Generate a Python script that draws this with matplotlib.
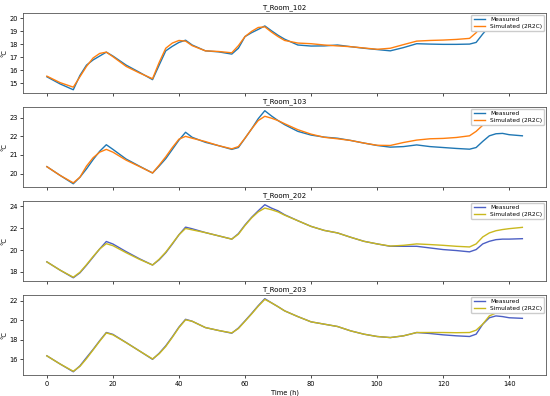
import numpy as np
import matplotlib.pyplot as plt

hours = [0, 4, 8, 10, 12, 14, 16, 18, 20, 24, 28, 32, 34, 36, 38, 40, 42, 44, 48, 52,
         56, 58, 60, 62, 64, 66, 68, 70, 72, 76, 80, 84, 88, 92, 96, 100, 104, 108, 112,
         116, 120, 124, 128, 130, 132, 134, 136, 138, 140, 144]

rooms = ["T_Room_102", "T_Room_103", "T_Room_202", "T_Room_203"]
yticks = [[15, 16, 17, 18, 19, 20], [20, 21, 22, 23], [18, 20, 22, 24], [16, 18, 20, 22]]

meas_102 = [15.5, 14.95, 14.5, 15.6, 16.4, 16.8, 17.1, 17.4, 17.1, 16.4, 15.85, 15.28, 16.4,
            17.5, 17.85, 18.15, 18.32, 17.95, 17.5, 17.42, 17.25, 17.7, 18.6, 18.9, 19.15,
            19.42, 19.05, 18.7, 18.4, 17.95, 17.87, 17.88, 17.95, 17.82, 17.7, 17.6, 17.5,
            17.75, 18.05, 18.02, 18.0, 18.0, 18.02, 18.15, 18.8, 19.4, 19.6, 19.65, 19.6, 19.5]
sim_102 = [15.55, 15.05, 14.7, 15.5, 16.3, 16.95, 17.3, 17.4, 17.05, 16.3, 15.8, 15.35, 16.6,
           17.7, 18.1, 18.3, 18.25, 17.9, 17.5, 17.45, 17.35, 17.9, 18.6, 19.0, 19.3, 19.35,
           18.95, 18.6, 18.3, 18.1, 18.05, 17.95, 17.88, 17.82, 17.72, 17.62, 17.7, 17.98,
           18.25, 18.3, 18.33, 18.38, 18.46, 18.9, 19.5, 19.8, 19.95, 20.05, 20.1, 20.13]

meas_103 = [20.37, 19.9, 19.45, 19.8, 20.25, 20.75, 21.2, 21.55, 21.3, 20.78, 20.4, 20.03,
            20.4, 20.8, 21.3, 21.8, 22.22, 21.95, 21.68, 21.5, 21.3, 21.4, 21.9, 22.4, 22.95,
            23.38, 23.1, 22.85, 22.63, 22.27, 22.07, 21.96, 21.9, 21.78, 21.64, 21.51, 21.42,
            21.45, 21.54, 21.45, 21.4, 21.35, 21.31, 21.4, 21.73, 22.03, 22.14, 22.16, 22.09, 22.03]
sim_103 = [20.37, 19.9, 19.5, 19.8, 20.4, 20.85, 21.15, 21.3, 21.15, 20.72, 20.38, 20.03,
           20.45, 20.9, 21.4, 21.85, 22.0, 21.9, 21.72, 21.5, 21.33, 21.45, 21.9, 22.4, 22.85,
           23.08, 22.98, 22.85, 22.68, 22.36, 22.12, 21.95, 21.87, 21.78, 21.64, 21.52, 21.51,
           21.67, 21.8, 21.87, 21.89, 21.94, 22.03, 22.27, 22.6, 22.8, 22.9, 22.95, 22.95, 22.95]

meas_202 = [18.91, 18.15, 17.45, 17.9, 18.6, 19.35, 20.1, 20.78, 20.55, 19.85, 19.2, 18.62,
            19.1, 19.75, 20.55, 21.4, 22.1, 21.95, 21.6, 21.3, 21.0, 21.5, 22.3, 23.0, 23.6,
            24.16, 23.85, 23.6, 23.24, 22.69, 22.17, 21.8, 21.57, 21.17, 20.8, 20.56, 20.34,
            20.34, 20.34, 20.19, 20.04, 19.95, 19.83, 20.04, 20.56, 20.8, 20.95, 21.0, 21.0, 21.04]
sim_202 = [18.91, 18.15, 17.5, 17.95, 18.65, 19.4, 20.1, 20.58, 20.4, 19.75, 19.15, 18.62,
           19.15, 19.8, 20.6, 21.4, 21.98, 21.85, 21.6, 21.3, 21.0, 21.45, 22.25, 22.95, 23.5,
           23.85, 23.7, 23.5, 23.2, 22.69, 22.17, 21.8, 21.57, 21.17, 20.8, 20.56, 20.36,
           20.43, 20.56, 20.5, 20.43, 20.34, 20.28, 20.56, 21.2, 21.57, 21.77, 21.88, 21.96, 22.08]

meas_203 = [16.34, 15.5, 14.7, 15.3, 16.16, 17.0, 17.9, 18.74, 18.55, 17.71, 16.85, 15.98,
            16.6, 17.37, 18.3, 19.3, 20.1, 19.9, 19.25, 18.95, 18.67, 19.2, 19.94, 20.7, 21.5,
            22.22, 21.8, 21.4, 20.97, 20.38, 19.84, 19.6, 19.36, 18.91, 18.57, 18.33, 18.22,
            18.4, 18.74, 18.64, 18.5, 18.4, 18.33, 18.57, 19.6, 20.26, 20.45, 20.38, 20.26, 20.2]
sim_203 = [16.34, 15.5, 14.75, 15.25, 16.05, 16.95, 17.85, 18.7, 18.5, 17.7, 16.85, 16.02,
           16.55, 17.3, 18.25, 19.25, 20.05, 19.9, 19.25, 18.95, 18.7, 19.15, 19.9, 20.65,
           21.45, 22.15, 21.8, 21.4, 20.97, 20.38, 19.84, 19.6, 19.36, 18.91, 18.57, 18.33,
           18.22, 18.4, 18.74, 18.74, 18.74, 18.72, 18.74, 18.98, 19.6, 20.45, 20.75, 20.85,
           20.9, 20.9]

measured = [meas_102, meas_103, meas_202, meas_203]
simulated = [sim_102, sim_103, sim_202, sim_203]
colors = [("#1f77b4", "#ff7f0e"), ("#1f77b4", "#ff7f0e"),
          ("#4c5fc4", "#c9b81e"), ("#4c5fc4", "#c9b81e")]

plt.rcParams["font.size"] = 4.8
fig, axes = plt.subplots(4, 1, figsize=(5.5, 3.96), dpi=100, sharex=True)
fig.subplots_adjust(left=0.042, right=0.993, top=0.967, bottom=0.052, hspace=0.17)

for ax, name, m, s, (cm, cs), yt in zip(axes, rooms, measured, simulated, colors, yticks):
    ax.plot(hours, m, color=cm, lw=1.0, label="Measured")
    ax.plot(hours, s, color=cs, lw=1.0, label="Simulated (2R2C)")
    ax.set_yticks(yt)
    ax.set_title(name, fontsize=5, pad=3)
    ax.set_ylabel("°C", labelpad=1.5)
    ax.tick_params(length=2.5, width=0.5, pad=1.5, labelsize=4.8)
    for sp in ax.spines.values():
        sp.set_linewidth(0.6)
        sp.set_color("#555555")
    ax.legend(loc="upper right", fontsize=4.2, framealpha=1, borderpad=0.4,
              handlelength=2, labelspacing=0.3, borderaxespad=0.3)

axes[-1].set_xlabel("Time (h)", labelpad=1.5)
plt.savefig("out.png")
